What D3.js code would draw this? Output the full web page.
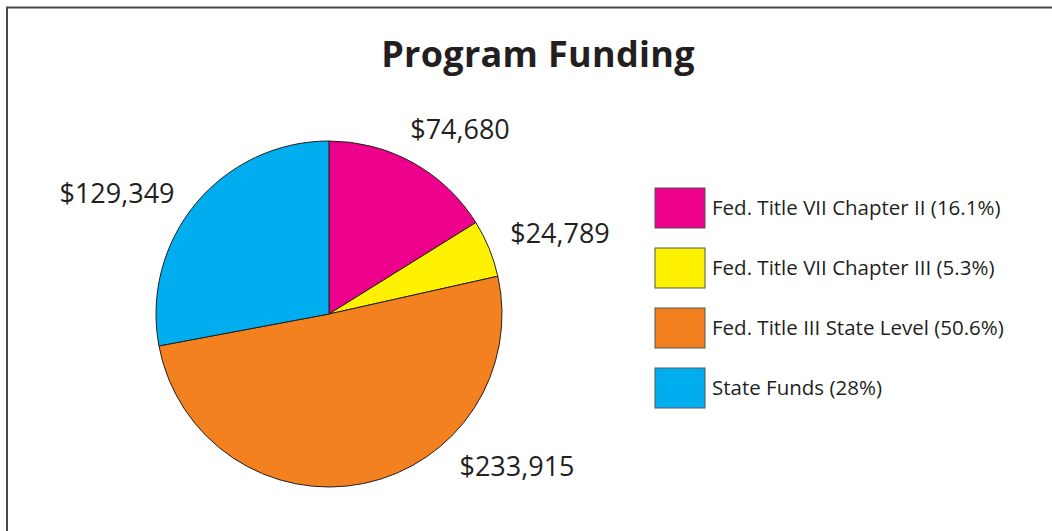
<!DOCTYPE html>
<html>
<head>
<meta charset="utf-8">
<script src="https://cdn.jsdelivr.net/npm/d3@7"></script>
<style>
  body { margin: 0; background: #fff; }
  svg { display: block; }
</style>
</head>
<body>
<main></main>
<script>
// data
const categories = ['Fed. Title VII Chapter II', 'Fed. Title VII Chapter III', 'Fed. Title III State Level', 'State Funds']
const amounts = [74680, 24789, 233915, 129349]
const shares = ['16.1%', '5.3%', '50.6%', '28%']
const colours = ['#ec008c', '#fff200', '#f48120', '#00aeef']

const width = 1052
const height = 531
const center = { x: 329, y: 314 }
const radius = 173
// hand placed label anchors (relative to the pie centre), like the original
const labelPos = [[131, -175], [231, -71], [188, 162], [-212, -111]]

const svg = d3.select('main')
  .append('svg')
  .attr('width', width)
  .attr('height', height)

// frame, only top and left edges show in the crop
svg.append('path')
  .attr('d', 'M7,' + height + 'V7.5H' + width)
  .style('fill', 'none')
  .style('stroke', '#4a4a4a')
  .style('stroke-width', '2px')

svg.append('text')
  .text('Program Funding')
  .attr('x', 538)
  .attr('y', 67)
  .attr('text-anchor', 'middle')
  .style('font-family', '"Open Sans", sans-serif')
  .style('font-weight', 'bold')
  .style('font-size', '36px')
  .style('letter-spacing', '0.3px')
  .style('fill', '#231f20')

const pie = d3.pie().sort(null).value(d => d)
const arc = d3.arc().innerRadius(0).outerRadius(radius)
const colour = d3.scaleOrdinal().domain(categories).range(colours)

const g = svg.append('g')
  .attr('transform', 'translate(' + center.x + ',' + center.y + ')')

g.selectAll('path')
  .data(pie(amounts))
  .enter()
  .append('path')
  .attr('d', arc)
  .style('fill', (d, i) => colour(categories[i]))
  .style('stroke', '#231f20')
  .style('stroke-width', '1px')
  .style('stroke-linejoin', 'round')

const fmt = d3.format('$,')
g.selectAll('.val')
  .data(amounts)
  .enter()
  .append('text')
  .attr('class', 'val')
  .text(d => fmt(d))
  .attr('x', (d, i) => labelPos[i][0])
  .attr('y', (d, i) => labelPos[i][1])
  .attr('text-anchor', 'middle')
  .style('font-family', '"Open Sans", sans-serif')
  .style('font-size', '27px')
  .style('fill', '#231f20')

// legend
const legend = svg.append('g')
  .attr('transform', 'translate(655,188)')
const item = legend.selectAll('g')
  .data(categories)
  .enter()
  .append('g')
  .attr('transform', (d, i) => 'translate(0,' + (i * 60) + ')')
item.append('rect')
  .attr('width', 50)
  .attr('height', 40)
  .style('fill', d => colour(d))
  .style('stroke', '#555')
  .style('stroke-width', '1px')
item.append('text')
  .text((d, i) => d + ' (' + shares[i] + ')')
  .attr('x', 57)
  .attr('y', 27)
  .style('font-family', '"Open Sans", sans-serif')
  .style('font-size', '20.5px')
  .style('fill', '#231f20')
</script>
</body>
</html>
